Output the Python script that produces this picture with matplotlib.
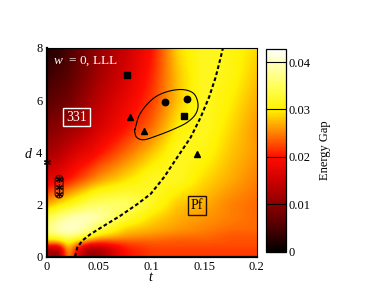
import numpy as np
import matplotlib
matplotlib.use("Agg")
import matplotlib.pyplot as plt
from matplotlib.colors import LinearSegmentedColormap

plt.rcParams['font.family'] = ['Liberation Serif', 'DejaVu Serif']
plt.rcParams['mathtext.fontset'] = 'custom'
plt.rcParams['mathtext.rm'] = 'Liberation Serif'
plt.rcParams['mathtext.it'] = 'Liberation Serif:italic'

# ---- data ----
t_grid = [0, 0.01, 0.02, 0.03, 0.04, 0.05, 0.075, 0.1, 0.125, 0.15, 0.175, 0.2]
d_grid = [0, 0.25, 0.5, 0.75, 1, 1.5, 2, 3, 4, 5, 6, 7, 8]
gap = [
    [0.013, 0.010, 0.027, 0.016, 0.011, 0.012, 0.020, 0.022, 0.022, 0.022, 0.022, 0.022],
    [0.011, 0.010, 0.028, 0.017, 0.010, 0.011, 0.020, 0.022, 0.022, 0.022, 0.022, 0.022],
    [0.025, 0.024, 0.030, 0.025, 0.021, 0.020, 0.022, 0.023, 0.023, 0.023, 0.023, 0.023],
    [0.032, 0.034, 0.036, 0.034, 0.031, 0.028, 0.026, 0.025, 0.024, 0.024, 0.023, 0.023],
    [0.037, 0.040, 0.041, 0.040, 0.037, 0.033, 0.028, 0.027, 0.026, 0.025, 0.024, 0.024],
    [0.034, 0.037, 0.039, 0.040, 0.040, 0.039, 0.033, 0.029, 0.027, 0.026, 0.025, 0.024],
    [0.027, 0.029, 0.031, 0.033, 0.035, 0.036, 0.036, 0.032, 0.028, 0.027, 0.025, 0.024],
    [0.017, 0.018, 0.020, 0.022, 0.024, 0.026, 0.029, 0.032, 0.032, 0.029, 0.027, 0.025],
    [0.012, 0.013, 0.015, 0.017, 0.018, 0.020, 0.024, 0.028, 0.032, 0.031, 0.028, 0.026],
    [0.009, 0.010, 0.011, 0.012, 0.014, 0.016, 0.020, 0.024, 0.030, 0.032, 0.029, 0.026],
    [0.006, 0.007, 0.008, 0.010, 0.012, 0.014, 0.018, 0.022, 0.028, 0.032, 0.030, 0.027],
    [0.004, 0.005, 0.006, 0.008, 0.010, 0.012, 0.016, 0.021, 0.028, 0.032, 0.031, 0.028],
    [0.002, 0.003, 0.005, 0.007, 0.009, 0.011, 0.015, 0.020, 0.029, 0.032, 0.031, 0.029],
]

boundary_t = [0.0272, 0.0294, 0.0341, 0.042, 0.0548, 0.0706, 0.0865, 0.0992, 0.1119,
              0.1246, 0.1373, 0.1468, 0.1548, 0.1611, 0.1659, 0.168]
boundary_d = [0.0, 0.35, 0.61, 0.86, 1.18, 1.57, 2.01, 2.40, 3.04,
              3.81, 4.57, 5.34, 6.11, 6.88, 7.64, 8.0]

square_t = [0.077, 0.1306]
square_d = [6.95, 5.38]
circle_t = [0.1132, 0.1335]
circle_d = [5.91, 6.04]
triangle_t = [0.0795, 0.0929, 0.1437]
triangle_d = [5.36, 4.80, 3.93]
star_t = [0.012, 0.012, 0.012, 0.0]
star_d = [2.97, 2.68, 2.38, 3.62]

loop_t = [0.0843, 0.0881, 0.0960, 0.1056, 0.1183, 0.1310, 0.1405, 0.1443, 0.1421,
          0.1341, 0.1214, 0.1056, 0.0929, 0.0859, 0.0840]
loop_d = [4.89, 5.40, 5.85, 6.17, 6.36, 6.40, 6.24, 5.85, 5.47,
          5.15, 4.89, 4.64, 4.48, 4.57, 4.80]

cbar_ticks = [0, 0.01, 0.02, 0.03, 0.04]
vmin, vmax = 0.0, 0.0427

# ---- colormap ----
cmap = LinearSegmentedColormap.from_list('gap', [
    (0.0 / vmax, (0, 0, 0)),
    (0.005 / vmax, (0.30, 0, 0)),
    (0.01 / vmax, (0.55, 0, 0)),
    (0.015 / vmax, (0.80, 0, 0)),
    (0.02 / vmax, (1.0, 0.05, 0)),
    (0.025 / vmax, (1.0, 0.50, 0)),
    (0.03 / vmax, (1.0, 0.95, 0)),
    (0.035 / vmax, (1.0, 1.0, 0.35)),
    (0.04 / vmax, (1.0, 1.0, 0.75)),
    (1.0, (1, 1, 1)),
])

fig = plt.figure(figsize=(3.82, 2.86), dpi=100)
ax = fig.add_axes([46.5 / 382, 1 - 256.5 / 286, 210 / 382, 208.5 / 286])
cax = fig.add_axes([265.7 / 382, 1 - 251.7 / 286, 20 / 382, 202.4 / 286])

# smooth rendering of the coarse grid: bilinear resample + gaussian blur
G = np.array(gap)
tf = np.linspace(0, 0.2, 211)
df = np.linspace(0, 8, 209)
rows = np.array([np.interp(tf, t_grid, r) for r in G])
fine = np.array([np.interp(df, d_grid, rows[:, j]) for j in range(rows.shape[1])]).T


def blur(a, sigma):
    k = np.arange(-3 * int(sigma) - 1, 3 * int(sigma) + 2)
    w = np.exp(-0.5 * (k / sigma) ** 2)
    w /= w.sum()
    pad = len(k) // 2
    b = np.pad(a, ((0, 0), (pad, pad)), mode='edge')
    a = np.array([np.convolve(r, w, mode='valid') for r in b])
    b = np.pad(a, ((pad, pad), (0, 0)), mode='edge')
    a = np.array([np.convolve(c, w, mode='valid') for c in b.T]).T
    return a


fine = blur(fine, 3.0)
im = ax.imshow(fine, origin='lower', extent=(0, 0.2, 0, 8), aspect='auto', cmap=cmap,
               vmin=vmin, vmax=vmax, interpolation='bilinear')

ax.plot(boundary_t, boundary_d, color='black', lw=1.5, dashes=[1.8, 1.2])


def catmull_closed(xs, ys, n=20):
    P = np.column_stack([np.array(xs) / 0.2 * 210, np.array(ys) / 8 * 208.5])
    out = []
    N = len(P)
    for i in range(N):
        p0, p1, p2, p3 = P[i - 1], P[i], P[(i + 1) % N], P[(i + 2) % N]
        for s in np.linspace(0, 1, n, endpoint=False):
            out.append(0.5 * ((2 * p1) + (-p0 + p2) * s + (2 * p0 - 5 * p1 + 4 * p2 - p3) * s ** 2
                              + (-p0 + 3 * p1 - 3 * p2 + p3) * s ** 3))
    out.append(out[0])
    out = np.array(out)
    return out[:, 0] / 210 * 0.2, out[:, 1] / 208.5 * 8


lx, ly = catmull_closed(loop_t, loop_d)
ax.plot(lx, ly, color='black', lw=0.8)

# capsule around asterisks
cx, cy0, cy1, r = 0.012, 2.40, 2.96, 4.0  # r in pixels
ang = np.linspace(0, np.pi, 30)
px = np.concatenate([r * np.cos(ang), r * np.cos(ang + np.pi)])
cap_t = cx + px / 210 * 0.2
cap_d = np.concatenate([cy1 + r * np.sin(ang) / 208.5 * 8, cy0 + r * np.sin(ang + np.pi) / 208.5 * 8])
cap_t = np.append(cap_t, cap_t[0])
cap_d = np.append(cap_d, cap_d[0])
ax.plot(cap_t, cap_d, color='#3a0a00', lw=0.8)

ax.plot(square_t, square_d, 's', color='black', ms=4.3, ls='none')
ax.plot(circle_t, circle_d, 'o', color='black', ms=4.6, ls='none')
ax.plot(triangle_t, triangle_d, '^', color='black', ms=4.8, ls='none')
ax.plot(star_t, star_d, marker=(6, 2, 0), color='#200000', ms=5, ls='none', mew=0.9, clip_on=False)

ax.text(0.006, 7.5, r'$w$  = 0, LLL', color='white', fontsize=9.5, va='center', ha='left')
ax.text(0.0285, 5.35, '331', color='white', fontsize=10, va='center', ha='center',
        bbox=dict(boxstyle='square,pad=0.2', fc='none', ec='white', lw=1.0))
ax.text(0.1429, 1.96, 'Pf', color='black', fontsize=10, va='center', ha='center',
        bbox=dict(boxstyle='square,pad=0.2', fc='none', ec='#2a1000', lw=1.0))

ax.set_xlim(0, 0.2)
ax.set_ylim(0, 8)
ax.set_xticks([0, 0.05, 0.1, 0.15, 0.2])
ax.set_xticklabels(['0', '0.05', '0.1', '0.15', '0.2'])
ax.set_yticks([0, 2, 4, 6, 8])
ax.tick_params(length=0, labelsize=9, pad=3)
ax.set_xlabel(r'$t$', fontsize=10, labelpad=-1)
ax.set_ylabel(r'$d$', fontsize=10, rotation=0, va='center')
ax.yaxis.set_label_coords(-0.085, 0.49)
for s in ax.spines.values():
    s.set_color('black')
    s.set_linewidth(0.8)
ax.spines['left'].set_linewidth(1.6)
ax.spines['bottom'].set_linewidth(1.6)

cb = fig.colorbar(im, cax=cax, ticks=cbar_ticks)
cb.set_ticklabels(['0', '0.01', '0.02', '0.03', '0.04'])
cax.tick_params(direction='in', length=14.4, width=0.8, labelsize=9, pad=2)
cb.outline.set_linewidth(0.9)
cb.set_label('Energy Gap', fontsize=9, labelpad=6)

fig.savefig('out.png', dpi=100)
